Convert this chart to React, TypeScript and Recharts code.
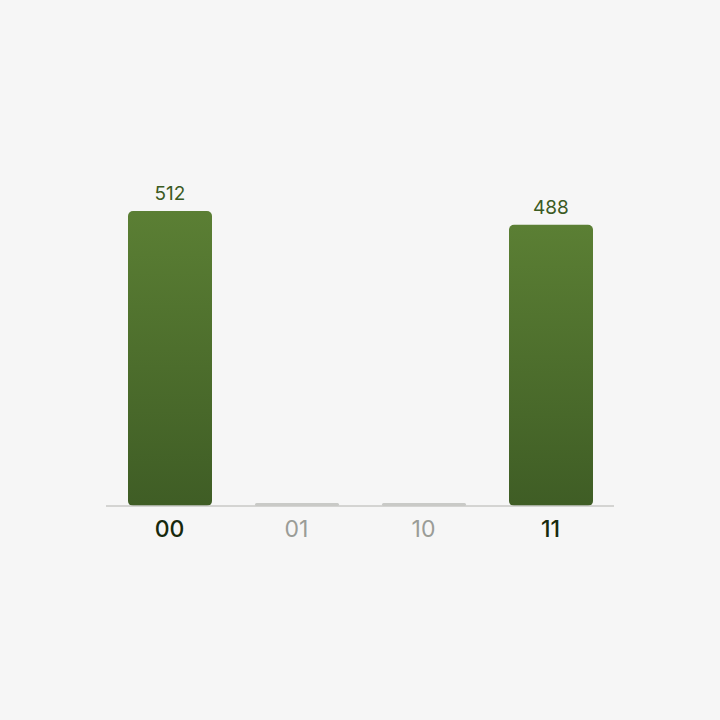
import React from 'react';
import { BarChart, Bar, XAxis, YAxis, LabelList } from 'recharts';

const categories = ['00', '01', '10', '11'];
const counts = [512, 0, 0, 488];

const data = categories.map((c, i) => ({ state: c, count: counts[i] }));

const BarShape = (props: any) => {
  const { x, y, width, height, value } = props;
  const v = Array.isArray(value) ? value[1] - value[0] : value;
  if (!v) {
    const h = 3;
    const by = y + height - h;
    return <rect x={x} y={by} width={width} height={h} rx={1.5} ry={1.5} fill="#c9cac7" />;
  }
  return <rect x={x} y={y} width={width} height={height} rx={5} ry={5} fill="url(#barGrad)" />;
};

const Tick = (props: any) => {
  const { x, y, payload, index } = props;
  const v = counts[index];
  return (
    <text x={x} y={y + 23} textAnchor="middle" fontSize={23} fontWeight={v ? 500 : 400}
      fontFamily="Inter, 'Noto Sans', sans-serif"
      fill={v ? '#17290d' : '#9a9c97'}>
      {payload.value}
    </text>
  );
};

const ValueLabel = (props: any) => {
  const { x, y, width, value } = props;
  if (!value) return null;
  return (
    <text x={x + width / 2} y={y - 11} textAnchor="middle" fontSize={19} fontFamily="Inter, 'Noto Sans', sans-serif" fill="#3b5a22">
      {value}
    </text>
  );
};

export default function App() {
  return (
    <div style={{ position: 'absolute', left: 0, top: 0, width: 720, height: 720, background: '#f6f6f6' }}>
      <BarChart width={720} height={720} data={data} margin={{ top: 211, right: 106, bottom: 174, left: 106 }} barSize={84}>
        <defs>
          <linearGradient id="barGrad" x1="0" y1="0" x2="0" y2="1">
            <stop offset="0%" stopColor="#5b7f34" />
            <stop offset="100%" stopColor="#3f5d25" />
          </linearGradient>
        </defs>
        <XAxis dataKey="state" height={40} tickLine={false} axisLine={{ stroke: '#c8c8c6', strokeWidth: 1.5 }} tick={<Tick />} interval={0} />
        <YAxis hide domain={[0, 512]} />
        <Bar dataKey="count" shape={<BarShape />} isAnimationActive={false}>
          <LabelList dataKey="count" content={<ValueLabel />} />
        </Bar>
      </BarChart>
    </div>
  );
}
